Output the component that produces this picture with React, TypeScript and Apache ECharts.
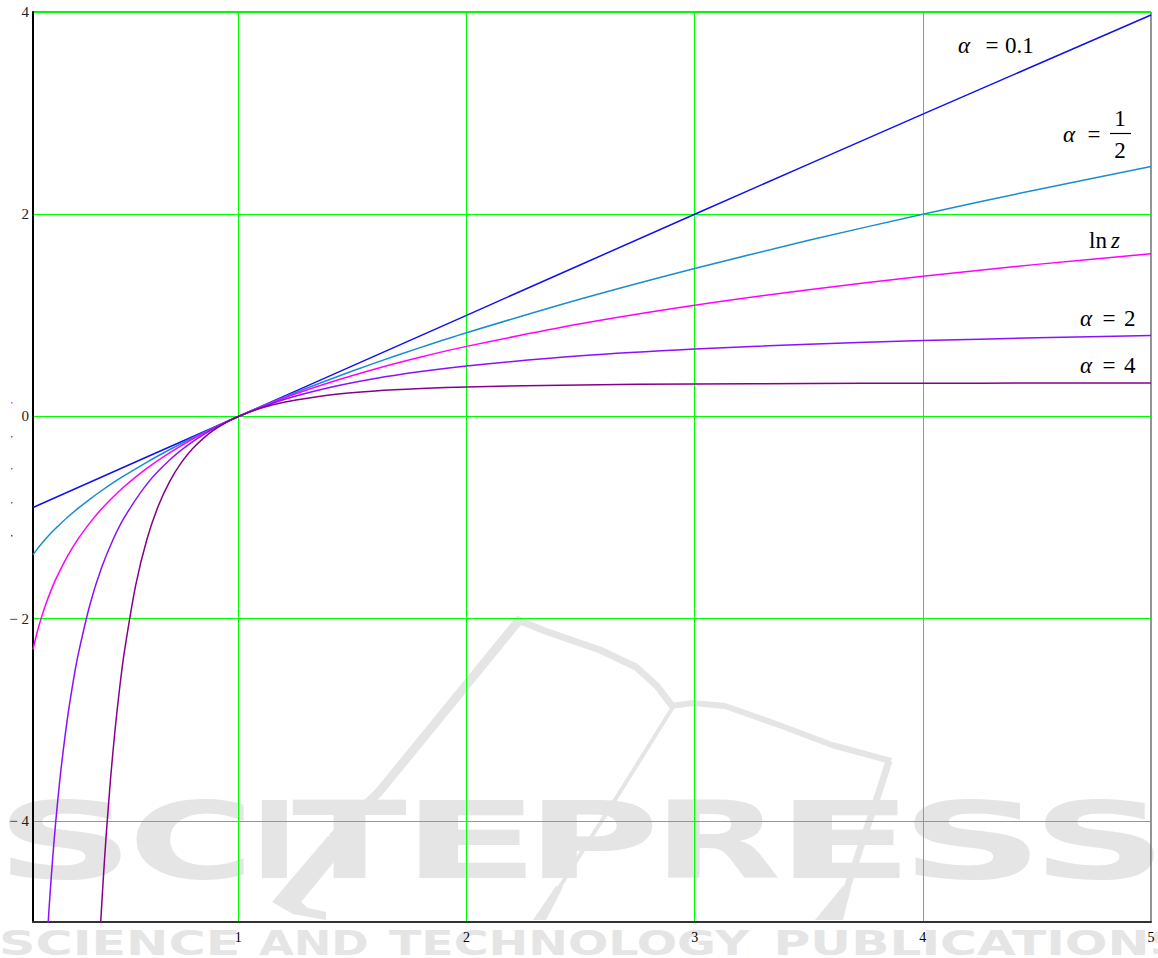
import React, { useEffect, useRef } from 'react';
import * as echarts from 'echarts';

// ---------- data ----------
const zBlue = [0.1, 1, 2, 3, 4, 5];
const yBlue = [-0.9, 0, 1, 2, 2.99, 3.97];

const zMain = [0.1, 0.12, 0.14, 0.16, 0.18, 0.2, 0.25, 0.3, 0.35, 0.4, 0.45, 0.5, 0.6, 0.7, 0.8, 0.9, 1, 1.2, 1.4, 1.6, 1.8, 2, 2.5, 3, 3.5, 4, 4.5, 5];
const yHalf = [-1.367, -1.307, -1.252, -1.2, -1.151, -1.106, -1.0, -0.905, -0.817, -0.735, -0.658, -0.586, -0.451, -0.327, -0.211, -0.103, 0, 0.191, 0.366, 0.53, 0.683, 0.828, 1.162, 1.464, 1.742, 2.0, 2.243, 2.472];
const yLn = [-2.303, -2.12, -1.966, -1.833, -1.715, -1.609, -1.386, -1.204, -1.05, -0.916, -0.799, -0.693, -0.511, -0.357, -0.223, -0.105, 0, 0.182, 0.336, 0.47, 0.588, 0.693, 0.916, 1.099, 1.253, 1.386, 1.504, 1.609];

const zTwo = [0.15, 0.16, 0.17, 0.18, 0.19, 0.2, 0.22, 0.25, 0.28, 0.3, 0.35, 0.4, 0.45, 0.5, 0.6, 0.7, 0.8, 0.9, 1, 1.2, 1.4, 1.6, 1.8, 2, 2.5, 3, 3.5, 4, 4.5, 5];
const yTwo = [-5.667, -5.25, -4.882, -4.556, -4.263, -4.0, -3.545, -3.0, -2.571, -2.333, -1.857, -1.5, -1.222, -1.0, -0.667, -0.429, -0.25, -0.111, 0, 0.167, 0.286, 0.375, 0.444, 0.5, 0.6, 0.667, 0.714, 0.75, 0.778, 0.8];

const zFour = [0.38, 0.39, 0.4, 0.41, 0.42, 0.44, 0.46, 0.48, 0.5, 0.55, 0.6, 0.65, 0.7, 0.75, 0.8, 0.85, 0.9, 0.95, 1, 1.1, 1.2, 1.4, 1.6, 1.8, 2, 2.5, 3, 3.5, 4, 4.5, 5];
const yFour = [-5.741, -5.286, -4.875, -4.503, -4.166, -3.58, -3.091, -2.681, -2.333, -1.67, -1.21, -0.88, -0.639, -0.457, -0.318, -0.209, -0.124, -0.056, 0, 0.083, 0.14, 0.212, 0.252, 0.276, 0.292, 0.312, 0.321, 0.326, 0.328, 0.33, 0.331];

const xTicks = [1, 2, 3, 4, 5];
const yTicks = [-4, -2, 0, 2, 4];

const seriesNames = ['α = 0.1', 'α = 1/2', 'ln z', 'α = 2', 'α = 4'];
const seriesColors = ['#1010f0', '#1a8cd0', '#ff00ff', '#8a10ff', '#86008a'];

// ---------- watermark layout ----------
const WM_COLOR = '#e5e5e5';
const wmLetters: [string, number, number][] = [
  ['S', 8, 122], ['C', 136, 244], ['I', 261, 287], ['T', 292, 407], ['E', 418, 527],
  ['P', 541, 654], ['R', 667, 779], ['E', 792, 901], ['S', 913, 1031], ['S', 1044, 1155],
];
const wmWords: [string, number, number][] = [
  ['SCIENCE', 2, 237], ['AND', 259, 367], ['TECHNOLOGY', 389, 750], ['PUBLICATIONS', 778, 1182],
];

function pairs(xs: number[], ys: number[]) {
  return xs.map((x, i) => [x, ys[i]]);
}

function ink(text: string, font: string) {
  const c = document.createElement('canvas').getContext('2d');
  if (!c) return { l: 0, r: text.length * 20 };
  c.font = font;
  const m = c.measureText(text);
  return { l: m.actualBoundingBoxLeft, r: m.actualBoundingBoxRight };
}

function fitText(text: string, L: number, R: number, yc: number, size: number) {
  const font = `bold ${size}px "DejaVu Sans"`;
  const b = ink(text, font);
  const w = b.l + b.r;
  const s = (R - L) / w;
  return {
    type: 'text',
    x: L + s * b.l,
    y: yc,
    scaleX: s,
    z: 0,
    silent: true,
    style: {
      text,
      fontFamily: 'DejaVu Sans',
      fontWeight: 'bold',
      fontSize: size,
      fill: WM_COLOR,
      align: 'left',
      verticalAlign: 'middle',
    },
  };
}

function stroke(points: number[][], width: number) {
  return {
    type: 'polyline',
    z: 0,
    silent: true,
    shape: { points },
    style: { stroke: WM_COLOR, lineWidth: width, fill: null, lineCap: 'butt', lineJoin: 'round' },
  };
}

function poly(points: number[][]) {
  return {
    type: 'polygon',
    z: 0,
    silent: true,
    shape: { points },
    style: { fill: WM_COLOR },
  };
}

const serif = 'Liberation Serif';

function txt(text: string, x: number, y: number, opts: any = {}) {
  return {
    type: 'text',
    x,
    y,
    z: 0,
    silent: true,
    style: {
      text,
      fontFamily: serif,
      fontSize: 23,
      fontStyle: opts.italic ? 'italic' : 'normal',
      fill: '#000',
      align: opts.align || 'left',
      verticalAlign: 'middle',
    },
  };
}

function alphaEq(xAlpha: number, xEq: number, y: number) {
  return [txt('α', xAlpha, y, { italic: true }), txt('=', xEq, y, { align: 'center' })];
}

export default function App() {
  const ref = useRef<HTMLDivElement>(null);

  useEffect(() => {
    if (!ref.current) return;
    const chart = echarts.init(ref.current, null, { renderer: 'svg' });

    const watermark: any[] = [];
    wmLetters.forEach(([t, L, R]) => watermark.push(fitText(t, L, R, 841, 107)));
    wmWords.forEach(([t, L, R]) => watermark.push(fitText(t, L, R, 943, 34)));
    // logo strokes
    watermark.push(stroke([[521, 618], [379, 792], [332, 838]], 9));
    watermark.push(poly([[328, 836], [337, 838], [334, 862], [301, 902], [308, 908], [326, 912], [326, 920], [293, 914], [272, 902]]));
    watermark.push(stroke([[518, 620], [545, 631], [600, 650], [636, 667], [657, 686], [673, 707]], 7));
    watermark.push(stroke([[671, 706], [693, 703], [725, 706], [779, 725], [832, 745], [891, 761]], 6));
    watermark.push(stroke([[889, 761], [879, 792], [847, 888]], 7));
    watermark.push(poly([[843, 886], [851, 888], [843, 920], [815, 920]]));
    watermark.push(stroke([[673, 707], [620, 792], [559, 888]], 4));
    watermark.push(poly([[556, 886], [563, 887], [546, 920], [533, 920]]));

    const annotations: any[] = [
      ...alphaEq(958, 992, 45),
      txt('0.1', 1005, 45),
      ...alphaEq(1063, 1094, 134),
      txt('1', 1120, 118, { align: 'center' }),
      { type: 'line', z: 0, silent: true, shape: { x1: 1110, y1: 133.5, x2: 1131, y2: 133.5 }, style: { stroke: '#000', lineWidth: 1.2 } },
      txt('2', 1120, 150, { align: 'center' }),
      txt('ln', 1089, 240),
      txt('z', 1111, 240, { italic: true }),
      ...alphaEq(1080, 1109, 318),
      txt('2', 1124, 318),
      ...alphaEq(1080, 1109, 365),
      txt('4', 1124, 365),
    ];

    const dots: any[] = [
      ['#ff40ff', 403], ['#9040ff', 437], ['#40a0d0', 469], ['#9040ff', 503], ['#3030ff', 536],
    ].map(([c, y]) => ({
      type: 'rect', z: 0, silent: true,
      shape: { x: 11, y: (y as number) - 1, width: 1.5, height: 1.5 },
      style: { fill: c as string },
    }));

    const zs = [zBlue, zMain, zMain, zTwo, zFour];
    const ys = [yBlue, yHalf, yLn, yTwo, yFour];

    chart.setOption({
      animation: false,
      backgroundColor: '#ffffff',
      grid: {
        left: 33, right: 7, top: 12, bottom: 36,
        show: true, borderColor: '#222', borderWidth: 1,
        backgroundColor: 'transparent',
        containLabel: false,
        z: 8,
      },
      xAxis: {
        type: 'value',
        z: 10,
        min: 0.1,
        max: 5,
        axisLine: { show: true, onZero: false, lineStyle: { color: '#333', width: 2 } },
        axisTick: { show: false, customValues: xTicks },
        axisLabel: {
          customValues: xTicks,
          color: '#000',
          fontFamily: serif,
          fontSize: 14,
          margin: 8,
          showMinLabel: true,
          showMaxLabel: true,
        },
        splitLine: { show: true, lineStyle: { color: '#00ff00', width: 1 } },
      },
      yAxis: {
        type: 'value',
        z: 10,
        min: -5,
        max: 4,
        axisLine: { show: true, onZero: false, lineStyle: { color: '#000', width: 2 } },
        axisTick: { show: false, customValues: yTicks },
        axisLabel: {
          customValues: yTicks,
          color: '#222',
          fontFamily: serif,
          fontSize: 15,
          margin: 4,
          formatter: (v: number) => (v < 0 ? '− ' + Math.abs(v) : String(v)),
        },
        splitLine: { show: true, lineStyle: { color: '#00ff00', width: 1 } },
      },
      series: seriesNames.map((name, i) => ({
        name,
        type: 'line',
        data: pairs(zs[i], ys[i]),
        showSymbol: false,
        smooth: 0.25,
        clip: true,
        z: 12,
        lineStyle: { color: seriesColors[i], width: 1.5 },
        itemStyle: { color: seriesColors[i] },
      })),
      graphic: { elements: [...watermark, ...annotations, ...dots] },
    });

    return () => chart.dispose();
  }, []);

  return (
    <div
      ref={ref}
      style={{ position: 'fixed', left: 0, top: 0, width: 1158, height: 958, background: '#fff' }}
    />
  );
}
